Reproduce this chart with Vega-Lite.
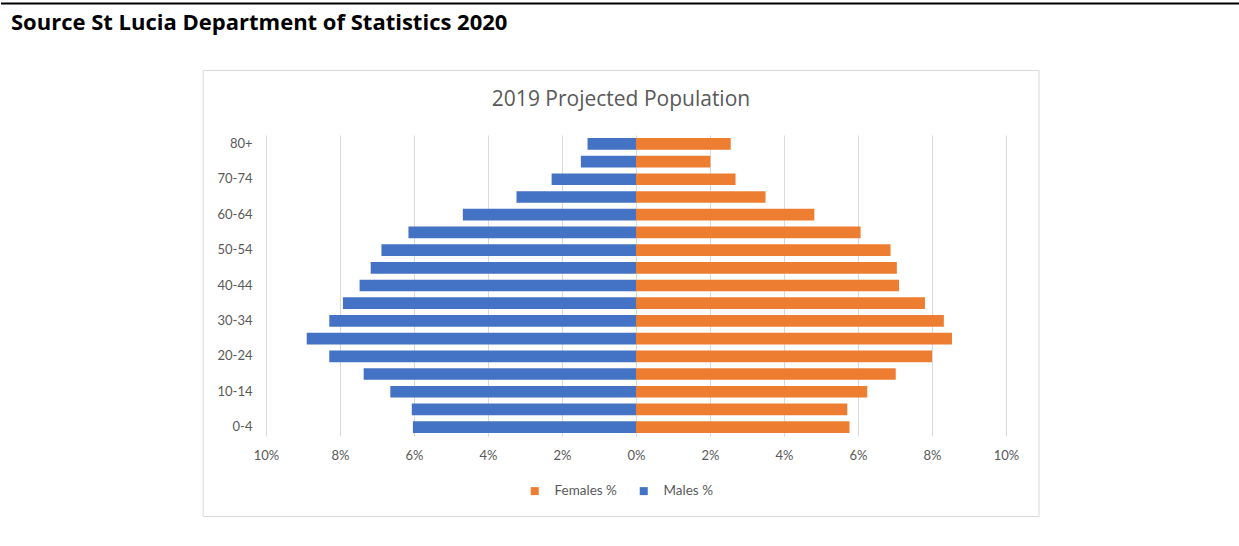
{
  "$schema": "https://vega.github.io/schema/vega-lite/v6.json",
  "width": 740,
  "height": 301,
  "padding": {"left": 0, "top": 2, "right": 0, "bottom": 0},
  "autosize": {"type": "pad"},
  "background": "white",
  "config": {"view": {"stroke": null}, "font": "Lato"},
  "datasets": {
    "pop": [
      {"age": "0-4", "sex": "Males %", "pct": -6.03},
      {"age": "5-9", "sex": "Males %", "pct": -6.06},
      {"age": "10-14", "sex": "Males %", "pct": -6.64},
      {"age": "15-19", "sex": "Males %", "pct": -7.36},
      {"age": "20-24", "sex": "Males %", "pct": -8.29},
      {"age": "25-29", "sex": "Males %", "pct": -8.90},
      {"age": "30-34", "sex": "Males %", "pct": -8.29},
      {"age": "35-39", "sex": "Males %", "pct": -7.92},
      {"age": "40-44", "sex": "Males %", "pct": -7.47},
      {"age": "45-49", "sex": "Males %", "pct": -7.17},
      {"age": "50-54", "sex": "Males %", "pct": -6.88},
      {"age": "55-59", "sex": "Males %", "pct": -6.15},
      {"age": "60-64", "sex": "Males %", "pct": -4.68},
      {"age": "65-69", "sex": "Males %", "pct": -3.23},
      {"age": "70-74", "sex": "Males %", "pct": -2.28},
      {"age": "75-79", "sex": "Males %", "pct": -1.49},
      {"age": "80+", "sex": "Males %", "pct": -1.31},
      {"age": "0-4", "sex": "Females %", "pct": 5.77},
      {"age": "5-9", "sex": "Females %", "pct": 5.71},
      {"age": "10-14", "sex": "Females %", "pct": 6.25},
      {"age": "15-19", "sex": "Females %", "pct": 7.02},
      {"age": "20-24", "sex": "Females %", "pct": 8.00},
      {"age": "25-29", "sex": "Females %", "pct": 8.54},
      {"age": "30-34", "sex": "Females %", "pct": 8.32},
      {"age": "35-39", "sex": "Females %", "pct": 7.81},
      {"age": "40-44", "sex": "Females %", "pct": 7.11},
      {"age": "45-49", "sex": "Females %", "pct": 7.05},
      {"age": "50-54", "sex": "Females %", "pct": 6.88},
      {"age": "55-59", "sex": "Females %", "pct": 6.07},
      {"age": "60-64", "sex": "Females %", "pct": 4.82},
      {"age": "65-69", "sex": "Females %", "pct": 3.50},
      {"age": "70-74", "sex": "Females %", "pct": 2.69},
      {"age": "75-79", "sex": "Females %", "pct": 2.01},
      {"age": "80+", "sex": "Females %", "pct": 2.56}
    ]
  },
  "layer": [
    {
      "data": {"name": "pop"},
      "mark": {"type": "bar"},
      "encoding": {
        "y": {
          "field": "age",
          "type": "ordinal",
          "sort": ["80+", "75-79", "70-74", "65-69", "60-64", "55-59", "50-54", "45-49", "40-44", "35-39", "30-34", "25-29", "20-24", "15-19", "10-14", "5-9", "0-4"],
          "scale": {"paddingInner": 0.34, "paddingOuter": 0.17},
          "axis": {
            "values": ["80+", "70-74", "60-64", "50-54", "40-44", "30-34", "20-24", "10-14", "0-4"],
            "title": null,
            "domain": false,
            "ticks": false,
            "grid": false,
            "labelFontSize": 13,
            "labelColor": "#595959",
            "labelPadding": 14
          }
        },
        "x": {
          "field": "pct",
          "type": "quantitative",
          "scale": {"domain": [-10, 10], "nice": false},
          "axis": {
            "values": [-10, -8, -6, -4, -2, 0, 2, 4, 6, 8, 10],
            "labelExpr": "abs(datum.value) + '%'",
            "labelFlush": false,
            "labelBound": false,
            "labelOverlap": false,
            "title": null,
            "domain": false,
            "ticks": false,
            "grid": true,
            "gridColor": "#d9d9d9",
            "labelFontSize": 13,
            "labelColor": "#595959",
            "labelPadding": 13
          }
        },
        "color": {
          "field": "sex",
          "type": "nominal",
          "scale": {"domain": ["Females %", "Males %"], "range": ["#ED7D31", "#4472C4"]},
          "legend": {
            "title": null,
            "orient": "none",
            "legendX": 262,
            "legendY": 349,
            "direction": "horizontal",
            "symbolType": "square",
            "symbolSize": 64,
            "symbolStrokeWidth": 0,
            "labelFontSize": 13.5,
            "labelColor": "#595959",
            "columnPadding": 20,
            "labelOffset": 13
          }
        }
      }
    },
    {
      "data": {"values": [{}]},
      "layer": [
        {
          "mark": {"type": "rect", "fillOpacity": 0, "stroke": "#d9d9d9", "strokeWidth": 1},
          "encoding": {
            "x": {"datum": -11.70, "type": "quantitative"},
            "x2": {"datum": 10.892},
            "y": {"datum": -64.5, "type": "quantitative", "scale": {"domain": [0, 301], "reverse": true, "nice": false, "zero": false}, "axis": null},
            "y2": {"datum": 381.5}
          }
        },
        {
          "mark": {"type": "rule", "color": "black", "strokeWidth": 2},
          "encoding": {
            "x": {"datum": -17.162, "type": "quantitative"},
            "x2": {"datum": 16.324},
            "y": {"datum": -131.5, "type": "quantitative", "axis": null}
          }
        },
        {
          "mark": {"type": "text", "text": "Source St Lucia Department of Statistics 2020", "font": "Open Sans", "fontSize": 22, "fontWeight": "bold", "color": "black", "align": "left", "baseline": "alphabetic"},
          "encoding": {
            "x": {"datum": -16.892, "type": "quantitative"},
            "y": {"datum": -105.5, "type": "quantitative", "axis": null}
          }
        },
        {
          "mark": {"type": "text", "text": "2019 Projected Population", "font": "Open Sans", "fontSize": 21, "color": "#595959", "align": "center", "baseline": "alphabetic"},
          "encoding": {
            "x": {"datum": -0.405, "type": "quantitative"},
            "y": {"datum": -29.5, "type": "quantitative", "axis": null}
          }
        }
      ]
    }
  ],
  "resolve": {"scale": {"y": "independent"}}
}
